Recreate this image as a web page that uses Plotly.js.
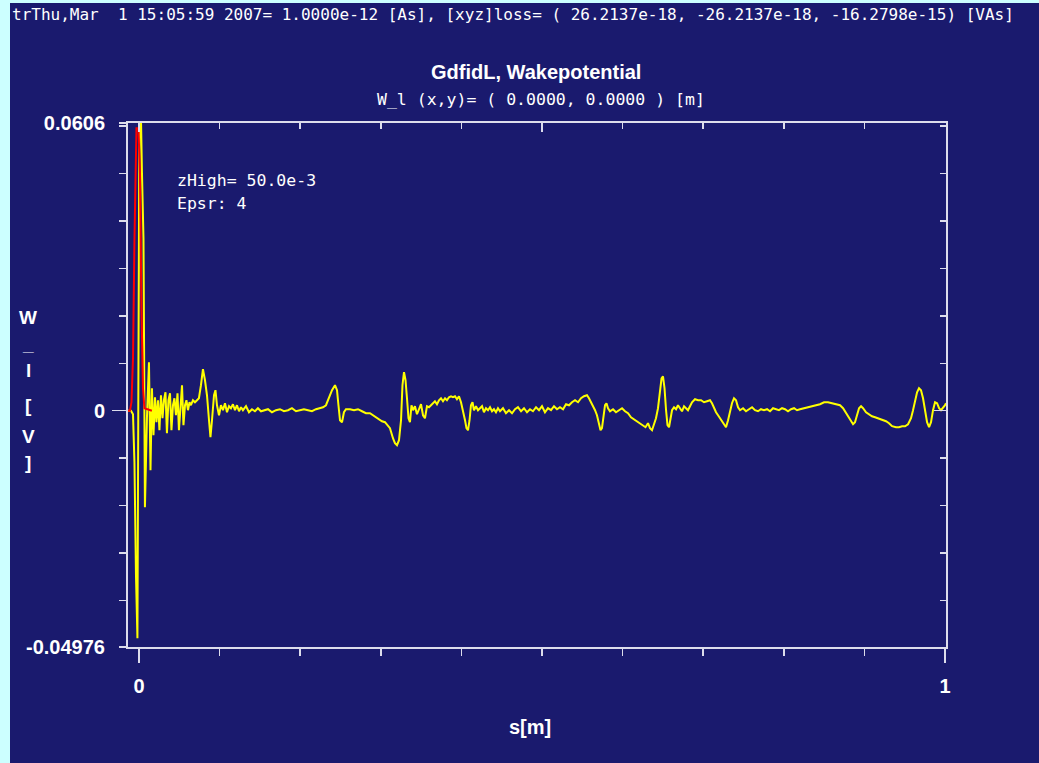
<!DOCTYPE html>
<html>
<head>
<meta charset="utf-8">
<script src="https://cdn.plot.ly/plotly-3.0.1.min.js"></script>
<style>
  html, body { margin: 0; padding: 0; background: #ccffff; width: 1039px; height: 763px; overflow: hidden; }
  #chart { position: absolute; left: 10px; top: 3px; width: 1029px; height: 760px; }
</style>
</head>
<body>
<div id="chart"></div>
<script>
// ---- data (s in m, W_l in V) ----
const sWake = [
 -0.0136,-0.0099,-0.0074,-0.0056,-0.0037,-0.0019,0.0006,0.0025,0.0037,0.0056,0.0074,0.0099,0.0124,0.0143,
 0.0161,0.0180,0.0199,0.0217,0.0236,0.0254,0.0273,0.0292,0.0310,0.0329,0.0347,0.0366,0.0385,0.0403,
 0.0422,0.0440,0.0459,0.0478,0.0496,0.0515,0.0534,0.0552,0.0571,0.0589,0.0608,0.0627,0.0645,0.0670,
 0.0695,0.0720,0.0744,0.0769,0.0794,0.0819,0.0844,0.0869,0.0887,0.0906,0.0931,0.0949,0.0968,0.0993,
 0.1017,0.1042,0.1067,0.1092,0.1117,0.1141,0.1166,0.1191,0.1216,0.1241,0.1266,0.1290,0.1328,0.1365,
 0.1402,0.1439,0.1476,0.1514,0.1551,0.1601,0.1650,0.1700,0.1749,0.1799,0.1849,0.1898,0.1948,0.1998,
 0.2047,0.2097,0.2146,0.2196,0.2246,0.2283,0.2320,0.2357,0.2395,0.2432,0.2457,0.2475,0.2494,0.2519,
 0.2543,0.2568,0.2618,0.2668,0.2717,0.2767,0.2816,0.2866,0.2916,0.2965,0.3015,0.3052,0.3089,0.3114,
 0.3151,0.3176,0.3201,0.3226,0.3251,0.3269,0.3288,0.3307,0.3325,0.3344,0.3362,0.3381,0.3400,0.3424,
 0.3449,0.3474,0.3499,0.3524,0.3548,0.3573,0.3598,0.3623,0.3648,0.3672,0.3697,0.3722,0.3747,0.3772,
 0.3797,0.3821,0.3846,0.3871,0.3896,0.3921,0.3945,0.3970,0.3995,0.4020,0.4045,0.4063,0.4082,0.4101,
 0.4119,0.4138,0.4156,0.4181,0.4206,0.4231,0.4256,0.4280,0.4305,0.4330,0.4355,0.4380,0.4404,0.4429,
 0.4454,0.4479,0.4516,0.4553,0.4591,0.4628,0.4665,0.4702,0.4740,0.4777,0.4814,0.4851,0.4888,0.4926,
 0.4963,0.5000,0.5037,0.5074,0.5112,0.5149,0.5186,0.5223,0.5261,0.5298,0.5335,0.5372,0.5410,0.5447,
 0.5484,0.5521,0.5558,0.5583,0.5608,0.5633,0.5658,0.5682,0.5707,0.5726,0.5744,0.5763,0.5782,0.5800,
 0.5819,0.5844,0.5881,0.5918,0.5955,0.5993,0.6030,0.6067,0.6104,0.6142,0.6179,0.6216,0.6253,0.6284,
 0.6315,0.6340,0.6365,0.6390,0.6414,0.6439,0.6464,0.6483,0.6501,0.6520,0.6539,0.6557,0.6576,0.6594,
 0.6613,0.6638,0.6663,0.6687,0.6712,0.6737,0.6762,0.6787,0.6811,0.6836,0.6861,0.6898,0.6936,0.6973,
 0.7010,0.7047,0.7084,0.7109,0.7134,0.7159,0.7184,0.7208,0.7233,0.7258,0.7283,0.7308,0.7333,0.7357,
 0.7382,0.7407,0.7432,0.7457,0.7494,0.7531,0.7568,0.7606,0.7643,0.7680,0.7717,0.7754,0.7792,0.7829,
 0.7866,0.7903,0.7940,0.7978,0.8015,0.8052,0.8089,0.8127,0.8164,0.8201,0.8251,0.8300,0.8350,0.8400,
 0.8449,0.8499,0.8548,0.8598,0.8648,0.8697,0.8735,0.8772,0.8809,0.8834,0.8859,0.8883,0.8908,0.8933,
 0.8958,0.8983,0.9020,0.9057,0.9094,0.9132,0.9169,0.9218,0.9268,0.9305,0.9343,0.9392,0.9429,0.9467,
 0.9504,0.9541,0.9578,0.9603,0.9628,0.9653,0.9677,0.9702,0.9727,0.9752,0.9777,0.9802,0.9826,0.9851,
 0.9876,0.9901,0.9926,0.9950,0.9975,1.0000,1.0012
];
const wWake = [
 0,0,-0.00074,-0.01084,-0.03463,-0.04790,0.06537,0.06158,0.05021,0.03632,-0.02032,-0.00158,0.01021,-0.01253,
 0.00474,-0.00516,0.00284,-0.00242,0.00221,-0.00411,0.00326,-0.00158,0.00221,0.00389,-0.00474,0.00221,0.00368,-0.00411,
 0.00116,0.00263,-0.00095,0.00368,-0.00411,0.00011,0.00537,-0.00305,0.00116,0.00221,0.00011,0.00179,0.00116,0.00221,
 0.00179,0.00221,0.00263,0.00537,0.00874,0.00642,0.00326,-0.00200,-0.00558,-0.00200,0.00326,0.00432,0.00116,-0.00095,
 0.00116,0.00011,0.00158,-0.00032,0.00095,0.00053,0.00137,0.00011,0.00116,-0.00011,0.00074,0.00011,0.00095,-0.00032,
 0.00032,-0.00011,0.00053,-0.00011,0.00011,0.00032,-0.00032,0.00011,0.00032,-0.00011,0.00011,0.00053,-0.00011,0.00011,
 0.00032,0.00011,-0.00011,0.00032,0.00053,0.00074,0.00116,0.00263,0.00432,0.00537,0.00432,0.00116,-0.00200,-0.00242,
 -0.00032,0.00032,0.00032,0.00011,0.00032,-0.00011,-0.00053,-0.00053,-0.00116,-0.00158,-0.00221,-0.00242,-0.00326,-0.00368,
 -0.00579,-0.00684,-0.00726,-0.00621,-0.00200,0.00537,0.00811,0.00642,0.00263,-0.00158,-0.00242,0.00116,0.00011,0.00095,
 -0.00074,0.00053,0.00137,-0.00095,-0.00158,0.00095,0.00074,0.00116,0.00158,0.00200,0.00137,0.00221,0.00263,0.00200,
 0.00263,0.00221,0.00284,0.00305,0.00284,0.00305,0.00242,0.00305,0.00179,0.00011,-0.00200,-0.00368,-0.00411,-0.00200,
 0.00116,0.00179,0.00011,0.00095,0.00011,0.00053,0.00095,-0.00032,0.00053,0.00011,0.00074,-0.00011,0.00032,-0.00032,
 0.00053,-0.00011,0.00053,-0.00053,0.00011,-0.00053,0.00032,0.00074,-0.00011,0.00053,-0.00032,0.00032,-0.00011,0.00074,
 0.00011,0.00095,-0.00032,0.00053,0.00011,0.00095,0.00032,0.00074,0.00032,0.00137,0.00116,0.00179,0.00221,0.00179,
 0.00263,0.00305,0.00326,0.00263,0.00179,0.00116,0.00011,-0.00095,-0.00305,-0.00411,-0.00368,-0.00158,0.00116,0.00158,
 0.00053,-0.00011,0.00032,-0.00032,0.00011,0.00053,-0.00011,-0.00053,-0.00137,-0.00179,-0.00221,-0.00263,-0.00305,-0.00347,
 -0.00263,-0.00368,-0.00411,-0.00284,-0.00158,0.00053,0.00389,0.00684,0.00726,0.00474,0.00011,-0.00305,-0.00347,-0.00158,
 0.00011,0.00074,0.00032,0.00116,0.00053,-0.00011,0.00095,0.00053,0.00011,0.00095,0.00179,0.00242,0.00221,0.00221,
 0.00179,0.00200,0.00221,0.00158,0.00053,-0.00032,-0.00095,-0.00158,-0.00242,-0.00305,-0.00347,-0.00200,0.00011,0.00158,
 0.00263,0.00221,0.00074,0.00011,0.00053,-0.00011,0.00032,0.00074,0.00011,-0.00011,0.00032,0.00011,0.00032,-0.00011,
 0.00053,0.00032,0.00011,0.00053,0.00032,-0.00011,0.00032,0.00053,0.00011,0.00032,0.00053,0.00074,0.00095,0.00116,
 0.00137,0.00179,0.00179,0.00158,0.00137,0.00116,0.00053,-0.00053,-0.00158,-0.00242,-0.00284,-0.00242,-0.00074,0.00053,
 0.00095,0.00053,-0.00032,-0.00074,-0.00116,-0.00137,-0.00158,-0.00179,-0.00221,-0.00263,-0.00326,-0.00347,-0.00347,-0.00326,
 -0.00326,-0.00284,-0.00158,0.00011,0.00221,0.00389,0.00474,0.00432,0.00263,-0.00032,-0.00242,-0.00347,-0.00242,0.00011,
 0.00179,0.00158,0.00053,0.00011,0.00053,0.00116,0.00158
];
const sCharge = [-0.0136,-0.0112,-0.0093,-0.0074,-0.0056,-0.0031,-0.0006,0.0012,0.0031,0.0050,0.0068,0.0160];
const wCharge = [0,0,0.00179,0.01105,0.0359,0.0595,0.0595,0.0500,0.0216,0.00474,0.00053,0];

const yTickVals = [-0.04976, 0, 0.0606];
const yTickText = ['-0.04976', '0', '0.0606'];
const xTickVals = [0, 1];
const xTickText = ['0', '1'];

const titleText = 'GdfidL, Wakepotential';
const subtitleText = 'W_l (x,y)=\u00a0( 0.0000,\u00a00.0000 )\u00a0[m]';
const headerText = 'trThu,Mar\u00a0\u00a01 15:05:59 2007= 1.0000e-12 [As], [xyz]loss= ( 26.2137e-18, -26.2137e-18, -16.2798e-15) [VAs]';
const infoLines = ['zHigh= 50.0e-3', 'Epsr: 4'];
const yTitleChars = ['W', '_', 'l', '[', 'V', ']'];
const xTitleText = 's[m]';

// ---- styles ----
const NAVY = '#1a1a6e';
const FRAME = '#dcdcec';
const WHITE = '#ffffff';
const MONO = 'DejaVu Sans Mono, Liberation Mono, monospace';
const BOLD = 'Liberation Sans, Arial, sans-serif';

const traces = [
  { x: sWake, y: wWake, type: 'scatter', mode: 'lines', line: { color: '#ffff00', width: 2 }, hoverinfo: 'skip', xaxis: 'x', yaxis: 'y' },
  { x: sCharge, y: wCharge, type: 'scatter', mode: 'lines', line: { color: '#ff0000', width: 2 }, hoverinfo: 'skip', xaxis: 'x', yaxis: 'y' }
];

const xRange = [-0.0136, 1.0012];
const yRange = [-0.04976, 0.0606];

const annotations = [
  { text: '<b>' + titleText + '</b>', x: 0.4988, y: 1.0965, xref: 'paper', yref: 'paper', xanchor: 'center', yanchor: 'middle', showarrow: false, font: { family: BOLD, size: 20, color: WHITE } },
  { text: subtitleText, x: 0.505, y: 1.045, xref: 'paper', yref: 'paper', xanchor: 'center', yanchor: 'middle', showarrow: false, font: { family: MONO, size: 16.5, color: WHITE } },
  { text: headerText, x: -0.1443, y: 1.207, xref: 'paper', yref: 'paper', xanchor: 'left', yanchor: 'middle', showarrow: false, font: { family: MONO, size: 16, color: WHITE } },
  { text: infoLines[0], x: 0.0575, y: 0.8905, xref: 'paper', yref: 'paper', xanchor: 'left', yanchor: 'middle', showarrow: false, font: { family: MONO, size: 16.5, color: WHITE } },
  { text: infoLines[1], x: 0.0575, y: 0.8467, xref: 'paper', yref: 'paper', xanchor: 'left', yanchor: 'middle', showarrow: false, font: { family: MONO, size: 16.5, color: WHITE } },
  { text: '<b>' + xTitleText + '</b>', x: 0.4914, y: -0.1526, xref: 'paper', yref: 'paper', xanchor: 'center', yanchor: 'middle', showarrow: false, font: { family: BOLD, size: 20, color: WHITE } }
];
const yTitlePos = [0.6293, 0.5778, 0.5282, 0.4615, 0.4024, 0.3528];
yTitleChars.forEach((c, i) => {
  annotations.push({ text: '<b>' + c + '</b>', x: -0.1222, y: yTitlePos[i], xref: 'paper', yref: 'paper', xanchor: 'center', yanchor: 'middle', showarrow: false, font: { family: BOLD, size: 19, color: WHITE } });
});

const layout = {
  width: 1029, height: 760,
  margin: { l: 118, r: 93, t: 120, b: 116, pad: 0 },
  paper_bgcolor: NAVY, plot_bgcolor: NAVY,
  showlegend: false,
  xaxis: {
    range: xRange, showgrid: false, zeroline: false,
    showline: true, linecolor: FRAME, linewidth: 2,
    ticks: 'outside', tickvals: xTickVals, ticktext: xTickText, ticklen: 14, tickwidth: 2, tickcolor: FRAME,
    ticklabelstandoff: 6,
    tickfont: { family: BOLD, size: 20, color: WHITE, weight: 'bold' },
    minor: { dtick: 0.1, tick0: 0, ticks: 'outside', ticklen: 7, tickwidth: 1.5, tickcolor: FRAME, showgrid: false }
  },
  xaxis2: {
    overlaying: 'x', matches: 'x', side: 'top', range: xRange, showgrid: false, zeroline: false,
    showline: true, linecolor: FRAME, linewidth: 2,
    ticks: 'inside', tickvals: [0, 0.5, 1], ticklen: 9, tickwidth: 1.5, tickcolor: FRAME, showticklabels: false,
    minor: { dtick: 0.1, tick0: 0, ticks: 'inside', ticklen: 6, tickwidth: 1.5, tickcolor: FRAME, showgrid: false }
  },
  yaxis: {
    range: yRange, showgrid: false, zeroline: false,
    showline: true, linecolor: FRAME, linewidth: 2,
    ticks: 'outside', tickvals: yTickVals, ticktext: yTickText, ticklen: 7, tickwidth: 1.5, tickcolor: FRAME,
    ticklabelstandoff: 10,
    tickfont: { family: BOLD, size: 20, color: WHITE, weight: 'bold' },
    minor: { dtick: 0.01, tick0: 0, ticks: 'outside', ticklen: 7, tickwidth: 1.5, tickcolor: FRAME, showgrid: false }
  },
  yaxis2: {
    overlaying: 'y', matches: 'y', side: 'right', range: yRange, showgrid: false, zeroline: false,
    showline: true, linecolor: FRAME, linewidth: 2,
    ticks: 'inside', tickvals: [0], ticklen: 12, tickwidth: 1.5, tickcolor: FRAME, showticklabels: false,
    minor: { dtick: 0.01, tick0: 0, ticks: 'inside', ticklen: 6, tickwidth: 1.5, tickcolor: FRAME, showgrid: false }
  },
  yaxis3: {
    overlaying: 'y', matches: 'y', side: 'left', range: yRange, showgrid: false, zeroline: false,
    showline: false, ticks: 'outside', tickvals: [0], ticklen: 15, tickwidth: 1.5, tickcolor: FRAME, showticklabels: false
  },
  annotations: annotations
};

// dummy traces so that overlay axes are drawn
traces.unshift({ x: [xRange[0]], y: [0], xaxis: 'x2', yaxis: 'y2', mode: 'none', type: 'scatter', hoverinfo: 'skip', showlegend: false });
traces.unshift({ x: [xRange[0]], y: [0], xaxis: 'x', yaxis: 'y3', mode: 'none', type: 'scatter', hoverinfo: 'skip', showlegend: false });

Plotly.newPlot('chart', traces, layout, { staticPlot: true, displayModeBar: false });
</script>
</body>
</html>
